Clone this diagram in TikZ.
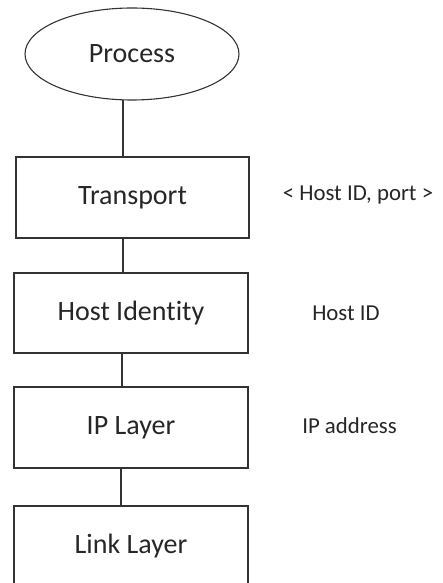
\documentclass[tikz,border=0pt]{standalone}
\usepackage{fontspec}
\setmainfont{Carlito}[Ligatures=CommonOff]
\usetikzlibrary{shapes.geometric}
\begin{document}
\begin{tikzpicture}[x=1pt,y=1pt,
  line width=1.1pt,
  every node/.style={text=black!85},
  layerbox/.style={draw=black!80, rectangle, minimum width=234pt, minimum height=81pt, inner sep=0pt, font=\fontsize{28}{30}\selectfont},
  procshape/.style={draw=black!80, ellipse, minimum width=214pt, minimum height=92pt, inner sep=0pt, font=\fontsize{28}{30}\selectfont},
  sidelabel/.style={font=\fontsize{22.8}{26}\selectfont, inner sep=0pt},
  link/.style={draw=black!80}]
\useasboundingbox (0,0) rectangle (442,-583);
\clip (0,0) rectangle (442,-583);
\node[procshape] (proc) at (132,-54) {Process};
\node[layerbox, minimum width=233pt] (tr) at (132.5,-197.5) {Transport};
\node[layerbox, minimum height=80pt] (hi) at (131,-313) {Host Identity};
\node[layerbox] (ip) at (131,-427.5) {IP Layer};
\node[layerbox] (ll) at (131,-546.5) {Link Layer};
\node[sidelabel] (l1) at (358,-195) {< Host ID, port >};
\node[sidelabel] (l2) at (346,-313) {Host ID};
\node[sidelabel] (l3) at (349.5,-426) {IP address};
\draw[link] ([xshift=-9.5pt]tr.north) -- ([xshift=-9.5pt,yshift=0.3pt]tr.north |- proc.south);
\draw[link] ([xshift=-9.5pt]tr.south) -- ([xshift=-9.5pt]tr.south |- hi.north);
\draw[link] ([xshift=-9pt]hi.south) -- ([xshift=-9pt]hi.south |- ip.north);
\draw[link] ([xshift=-10pt]ip.south) -- ([xshift=-10pt]ip.south |- ll.north);
\end{tikzpicture}
\end{document}
